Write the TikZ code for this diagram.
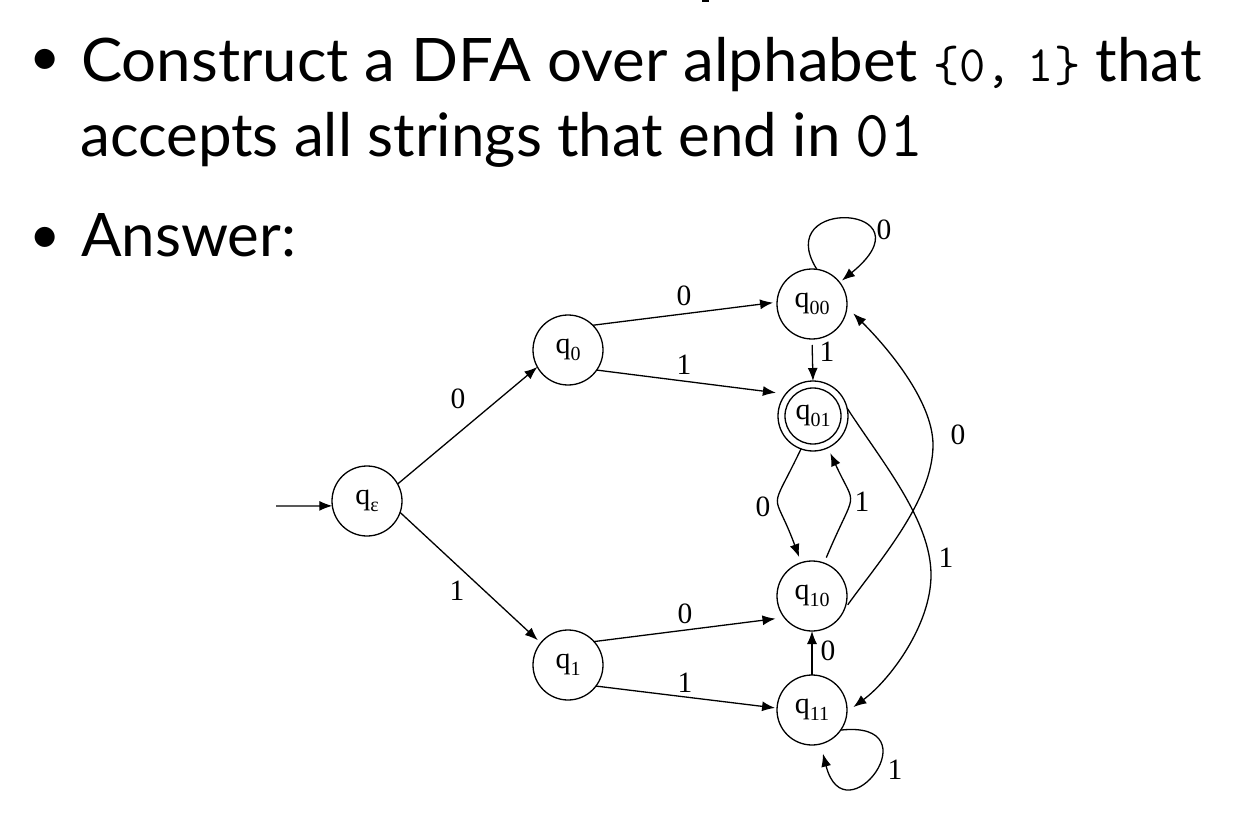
\documentclass[tikz,border=0pt]{standalone}
\usepackage{fontspec}
\usepackage{graphicx}
\setmainfont{Liberation Serif}
\newfontfamily\gill{Lato}
\usetikzlibrary{arrows.meta}
\newcommand\qsub[1]{\raisebox{-7pt}{\fontsize{20}{20}\selectfont #1}}
\begin{document}
\begin{tikzpicture}[x=1pt,y=-1pt,
  st/.style={draw, circle, line width=1.3pt, minimum size=70pt, inner sep=0pt, outer sep=0pt, font=\fontsize{30}{30}\selectfont},
  arr/.style={line width=1.3pt, -{Latex[length=13pt,width=10pt]}},
  lbl/.style={font=\fontsize{29.5}{30}\selectfont, inner sep=0pt},
  txt/.style={anchor=base west, inner sep=0pt, font=\gill\fontsize{60}{62}\selectfont},
  bul/.style={inner sep=0pt, font=\gill\fontsize{54}{60}\selectfont}]
\fill[white] (0,0) rectangle (1245,818);
\useasboundingbox (0,0) rectangle (1245,818);
\fill[black] (702,0) rectangle (709,2);
% text
\node[bul] (b1) at (45,62) {•};
\node[txt] (l1) at (81,82) {\scalebox{1.03}[1]{Construct a DFA over alphabet} {\ttfamily\fontsize{51}{53}\selectfont\{0,\kern16pt1\}} that};
\node[txt] (l2) at (80,157) {accepts all strings that end in {\ttfamily\fontsize{66}{68}\selectfont 01}};
\node[bul] (b2) at (45,240) {•};
\node[txt] (l3) at (81,257) {Answer:};
% states
\node[st] (qe) at (367,501) {q\qsub{ε}};
\node[st] (q0) at (568,350) {q\qsub{0}};
\node[st] (q1) at (568,665) {q\qsub{1}};
\node[st] (q00) at (812,304) {q\qsub{00}};
\node[st] (q01) at (813,416) {q\qsub{01}};
\draw[line width=1.3pt] (q01.center) circle[radius=28pt];
\node[st] (q10) at (812,596) {q\qsub{10}};
\node[st] (q11) at (812,710) {q\qsub{11}};
% edges
\coordinate (init) at (276,506);
\draw[arr] (init) -- (qe.188);
\draw[arr] (qe.29) -- (q0.209) node[lbl] at (458,399) {0};
\draw[arr, shorten >=4pt] (qe.-19.5) -- (q1.141) node[lbl] at (457,591) {1};
\draw[arr, shorten >=4pt] (q0.45) -- (q00.177.5) node[lbl] at (684,296) {0};
\draw[arr, shorten >=10pt] (q0.-35) -- (q01.141) node[lbl] at (684,365) {1};
\draw[arr, shorten <=6pt] (q00.south) -- (q01.north) node[lbl] at (827,352) {1};
\draw[arr, shorten >=3pt] (q00.82) .. controls (770,195) and (935,205) .. (q00.38) node[lbl] at (884,230) {0};
\draw[arr, shorten >=6pt] (q01.250) .. controls (768,518) and (773,486) .. (q10.108) node[lbl] at (763,507) {0};
\draw[arr, shorten <=6pt, shorten >=6pt] (q10.70) .. controls (857,485) and (857,511) .. (q01.295) node[lbl] at (862,502) {1};
\draw[arr, shorten <=6pt, shorten >=9pt] (q10.-23) .. controls (880,560) and (933,500) .. (933,445) .. controls (933,400) and (885,345) .. (q00.-5) node[lbl] at (958,435) {0};
\draw[arr, shorten >=8pt] (q01.13) .. controls (882,462) and (931,520) .. (931,575) .. controls (931,625) and (890,680) .. (q11.-3) node[lbl] at (946,558) {1};
\draw[arr] (q11.north) -- (q10.south) node[lbl] at (828,651) {0};
\draw[arr, shorten >=10pt] (q11.-35) .. controls (935,720) and (845,840) .. (q11.-76) node[lbl] at (895,770) {1};
\draw[arr, shorten >=9pt] (q1.42) -- (q10.218) node[lbl] at (685,614) {0};
\draw[arr, shorten >=2pt] (q1.-37) -- (q11.177) node[lbl] at (685,683) {1};
\end{tikzpicture}
\end{document}
